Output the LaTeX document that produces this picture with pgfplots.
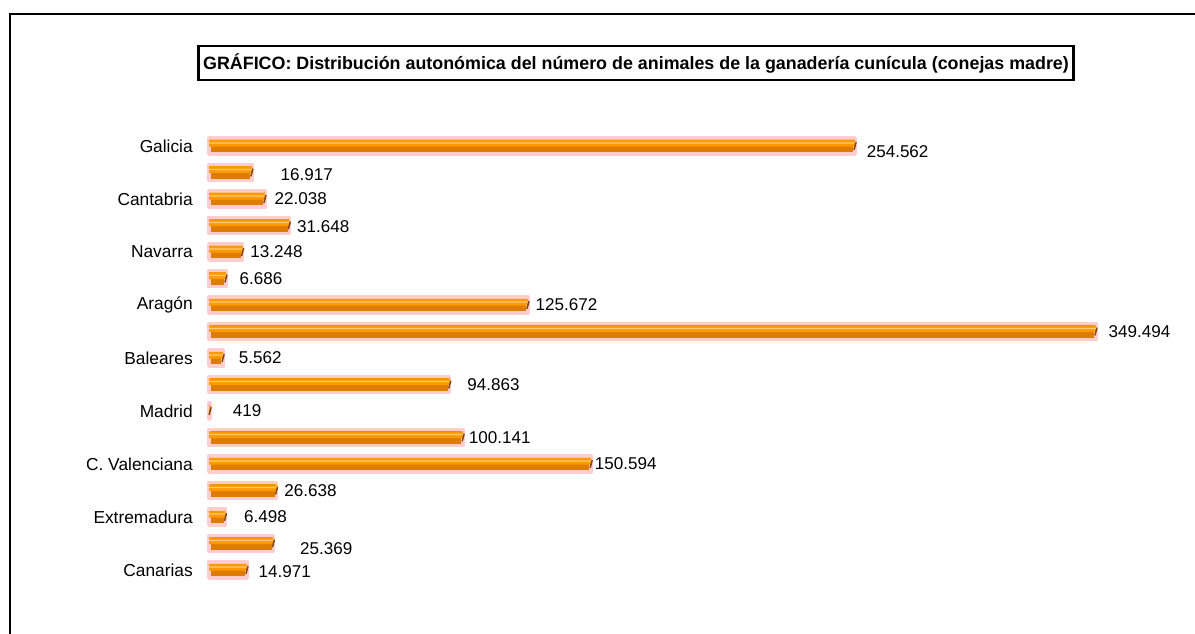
\documentclass[border=0pt]{standalone}
\usepackage{fontspec}
\setmainfont{Liberation Sans}
\usepackage{pgfplots}
\usepackage{pgfplotstable}
\pgfplotsset{compat=1.18}

\definecolor{barmain}{RGB}{255,153,0}
\definecolor{bardark}{RGB}{222,124,0}
\definecolor{barlight}{RGB}{255,205,120}
\definecolor{barline}{RGB}{255,205,205}
\definecolor{capc}{RGB}{130,70,10}

% idx: row from top, dx/dy: label offset in px
\pgfplotstableread{
idx val    lab     dx dy
0   254562 254.562 10 6
1   16917  16.917  27 2
2   22038  22.038  8  0
3   31648  31.648  6  1
4   13248  13.248  6  0
5   6686   6.686   12 0
6   125672 125.672 6  0
7   349494 349.494 11 0
8   5562   5.562   14 0
9   94863  94.863  16 0
10  419    419     21 0
11  100141 100.141 4  0
12  150594 150.594 2  0
13  26638  26.638  6  0
14  6498   6.498   17 0
15  25369  25.369  25 5
16  14971  14.971  10 2
}\datatable

\begin{document}
\begin{tikzpicture}[x=0.75pt,y=-0.75pt]
\path[use as bounding box] (0,0) rectangle (1195,634);
\coordinate (axorig) at (209,132.75);
\draw[line width=1.8pt] (10,640) -- (10,14) -- (1200,14);
\node[draw, line width=1.6pt, minimum width=875*0.75pt, minimum height=34*0.75pt,
      inner sep=0pt, font=\fontsize{13.4}{15}\selectfont\bfseries] at (636,63)
  {GRÁFICO: Distribución autonómica del número de animales de la ganadería cunícula (conejas madre)};
\begin{axis}[
    at={(axorig)}, anchor=north west,
    scale only axis,
    width=723.3pt, height=337.9pt,
    xmin=0, xmax=380000,
    ymin=-0.5, ymax=16.5,
    y dir=reverse,
    clip=false,
    axis line style={draw=none},
    xtick=\empty,
    ytick={0,...,16},
    yticklabels={Galicia,,Cantabria,,Navarra,,Aragón,,Baleares,,Madrid,,C. Valenciana,,Extremadura,,Canarias},
    major tick length=0pt,
    yticklabel style={anchor=east, inner sep=0pt, xshift=-12pt, font=\fontsize{13}{15}\selectfont},
    ]
    % pink rim with dark lower half
    \addplot[xbar, bar width=12pt, bar shift=0pt, draw=barline, line width=2.6pt, line join=round,
        fill=bardark,
        point meta=explicit symbolic,
        visualization depends on={\thisrow{dx} \as \dx},
        visualization depends on={\thisrow{dy} \as \dy},
        nodes near coords,
        nodes near coords style={anchor=west, inner sep=0pt, text=black,
            font=\fontsize{12.8}{15}\selectfont,
            xshift=\dx*0.75pt, yshift=-\dy*0.75pt},
        ] table[x=val, y=idx, meta=lab] {\datatable};
    % bright upper half
    \addplot[xbar, bar width=5.2pt, bar shift=2.1pt, draw=none, fill=barmain]
        table[x=val, y=idx] {\datatable};
    % highlight line
    \addplot[xbar, bar width=0.9pt, bar shift=2.3pt, draw=none, fill=barlight]
        table[x=val, y=idx] {\datatable};
    % end caps
    \addplot[only marks, mark=|, mark size=3pt, draw=capc, line width=1.1pt,
        mark options={rotate=-15}] table[x=val, y=idx] {\datatable};
\end{axis}
\end{tikzpicture}
\end{document}
